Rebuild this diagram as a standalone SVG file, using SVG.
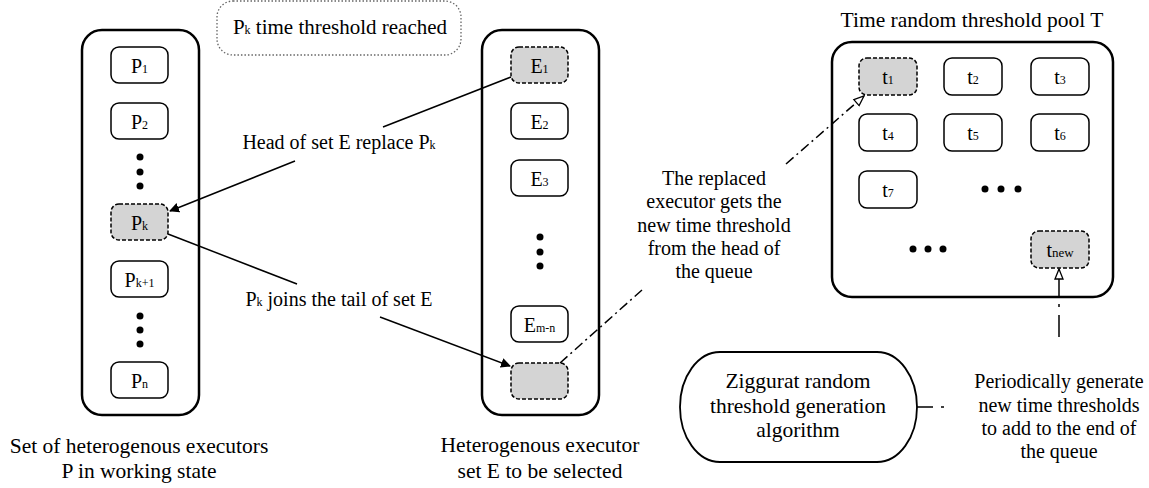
<svg xmlns="http://www.w3.org/2000/svg" width="1149" height="488" viewBox="0 0 1149 488" font-family="Liberation Serif">
<defs>
<style>
.cap{font-size:21.5px;text-anchor:middle;}
.lbl{font-size:20px;text-anchor:middle;}
.bx{font-size:20px;text-anchor:middle;}
.sub{font-size:12px;}
.cont{fill:#fff;stroke:#000;stroke-width:2.5;}
.box{fill:#fff;stroke:#000;stroke-width:1.5;}
.sel{fill:#d4d4d4;stroke:#000;stroke-width:1.5;stroke-dasharray:4 2;}
.dot{fill:#000;}
.solid{stroke:#000;stroke-width:1.5;fill:none;}
.dd{stroke:#000;stroke-width:1.5;fill:none;stroke-dasharray:10 4 2 4;}
</style>
<marker id="fill" viewBox="0 0 10 10" refX="9" refY="5" markerWidth="10" markerHeight="10" markerUnits="userSpaceOnUse" orient="auto">
<path d="M0,0 L10,5 L0,10 z" fill="#000"/>
</marker>
<marker id="hollow" viewBox="0 0 12 10" refX="11" refY="5" markerWidth="12" markerHeight="10" markerUnits="userSpaceOnUse" orient="auto">
<path d="M1,1 L11,5 L1,9 z" fill="#fff" stroke="#000" stroke-width="1.3"/>
</marker>
</defs>
<rect width="1149" height="488" fill="#fff"/>

<g id="trigger">
<rect x="217" y="1" width="244" height="54" rx="16" fill="none" stroke="#666" stroke-width="1.3" stroke-dasharray="1.5 2"/>
<text x="340" y="34" class="lbl" font-family="Liberation Serif" style="font-size:21px">P<tspan class="sub">k</tspan>  time threshold reached</text>
</g>

<g id="setP">
<rect class="cont" x="82" y="30" width="117" height="385" rx="20"/>
<g id="P1"><rect class="box" x="111" y="47" width="57" height="36" rx="8"/><text class="bx" font-family="Liberation Serif" x="139.5" y="73">P<tspan class="sub">1</tspan></text></g>
<g id="P2"><rect class="box" x="111" y="103" width="57" height="36" rx="8"/><text class="bx" font-family="Liberation Serif" x="139.5" y="129">P<tspan class="sub">2</tspan></text></g>
<circle class="dot" cx="140" cy="157" r="3.5"/><circle class="dot" cx="140" cy="172" r="3.5"/><circle class="dot" cx="140" cy="186" r="3.5"/>
<g id="Pk"><rect class="sel" x="111" y="204" width="57" height="36" rx="8"/><text class="bx" font-family="Liberation Serif" x="139.5" y="230">P<tspan class="sub">k</tspan></text></g>
<g id="Pk1"><rect class="box" x="111" y="261" width="57" height="36" rx="8"/><text class="bx" font-family="Liberation Serif" x="139.5" y="287">P<tspan class="sub">k+1</tspan></text></g>
<circle class="dot" cx="140" cy="316" r="3.5"/><circle class="dot" cx="140" cy="330" r="3.5"/><circle class="dot" cx="140" cy="344" r="3.5"/>
<g id="Pn"><rect class="box" x="111" y="362" width="57" height="36" rx="8"/><text class="bx" font-family="Liberation Serif" x="139.5" y="388">P<tspan class="sub">n</tspan></text></g>
<text class="cap" font-family="Liberation Serif" x="139" y="453">Set of heterogenous executors</text>
<text class="cap" font-family="Liberation Serif" x="139" y="478">P in working state</text>
</g>

<g id="setE">
<rect class="cont" x="482" y="30" width="117" height="385" rx="20"/>
<g id="E1"><rect class="sel" x="511" y="47" width="57" height="36" rx="8"/><text class="bx" font-family="Liberation Serif" x="539.5" y="73">E<tspan class="sub">1</tspan></text></g>
<g id="E2"><rect class="box" x="511" y="103" width="57" height="36" rx="8"/><text class="bx" font-family="Liberation Serif" x="539.5" y="129">E<tspan class="sub">2</tspan></text></g>
<g id="E3"><rect class="box" x="511" y="160" width="57" height="36" rx="8"/><text class="bx" font-family="Liberation Serif" x="539.5" y="186">E<tspan class="sub">3</tspan></text></g>
<circle class="dot" cx="540" cy="237" r="3.5"/><circle class="dot" cx="540" cy="252" r="3.5"/><circle class="dot" cx="540" cy="266" r="3.5"/>
<g id="Emn"><rect class="box" x="511" y="306" width="57" height="36" rx="8"/><text class="bx" font-family="Liberation Serif" x="539.5" y="332">E<tspan class="sub">m-n</tspan></text></g>
<g id="Etail"><rect class="sel" x="511" y="363" width="57" height="36" rx="8"/></g>
<text class="cap" font-family="Liberation Serif" x="540" y="452">Heterogenous executor</text>
<text class="cap" font-family="Liberation Serif" x="540" y="478">set E to be selected</text>
</g>

<g id="poolT">
<text class="cap" font-family="Liberation Serif" x="972" y="27">Time random threshold pool T</text>
<rect class="cont" x="832" y="42" width="281" height="255" rx="20"/>
<g id="t1"><rect class="sel" x="859" y="58" width="58" height="37" rx="8"/><text class="bx" font-family="Liberation Serif" x="888" y="84">t<tspan class="sub">1</tspan></text></g>
<g id="t2"><rect class="box" x="944" y="58" width="58" height="37" rx="8"/><text class="bx" font-family="Liberation Serif" x="973" y="84">t<tspan class="sub">2</tspan></text></g>
<g id="t3"><rect class="box" x="1031" y="58" width="58" height="37" rx="8"/><text class="bx" font-family="Liberation Serif" x="1060" y="84">t<tspan class="sub">3</tspan></text></g>
<g id="t4"><rect class="box" x="859" y="114" width="58" height="37" rx="8"/><text class="bx" font-family="Liberation Serif" x="888" y="140">t<tspan class="sub">4</tspan></text></g>
<g id="t5"><rect class="box" x="944" y="114" width="58" height="37" rx="8"/><text class="bx" font-family="Liberation Serif" x="973" y="140">t<tspan class="sub">5</tspan></text></g>
<g id="t6"><rect class="box" x="1031" y="114" width="58" height="37" rx="8"/><text class="bx" font-family="Liberation Serif" x="1060" y="140">t<tspan class="sub">6</tspan></text></g>
<g id="t7"><rect class="box" x="859" y="171" width="58" height="37" rx="8"/><text class="bx" font-family="Liberation Serif" x="888" y="197">t<tspan class="sub">7</tspan></text></g>
<circle class="dot" cx="985" cy="189" r="3.5"/><circle class="dot" cx="1001" cy="189" r="3.5"/><circle class="dot" cx="1018" cy="189" r="3.5"/>
<circle class="dot" cx="913" cy="249" r="3.5"/><circle class="dot" cx="928" cy="249" r="3.5"/><circle class="dot" cx="943" cy="249" r="3.5"/>
<g id="tnew"><rect class="sel" x="1031" y="231" width="58" height="37" rx="8"/><text class="bx" font-family="Liberation Serif" x="1060" y="257">t<tspan class="sub" style="font-size:13px">new</tspan></text></g>
</g>

<g id="ziggurat">
<rect x="680" y="352" width="237" height="110" rx="40" ry="55" fill="#fff" stroke="#000" stroke-width="1.8"/>
<text class="cap" font-family="Liberation Serif" x="798" y="388">Ziggurat random</text>
<text class="cap" font-family="Liberation Serif" x="798" y="413">threshold generation</text>
<text class="cap" font-family="Liberation Serif" x="798" y="437">algorithm</text>
</g>

<g id="labels">
<text class="lbl" font-family="Liberation Serif" x="339" y="149">Head of set E replace P<tspan class="sub">k</tspan></text>
<text class="lbl" font-family="Liberation Serif" x="339" y="306">P<tspan class="sub">k</tspan> joins the tail of set E</text>
<text class="lbl" font-family="Liberation Serif" x="714" y="185">The replaced</text>
<text class="lbl" font-family="Liberation Serif" x="714" y="208">executor gets the</text>
<text class="lbl" font-family="Liberation Serif" x="714" y="232">new time threshold</text>
<text class="lbl" font-family="Liberation Serif" x="714" y="255">from the head of</text>
<text class="lbl" font-family="Liberation Serif" x="714" y="278">the queue</text>
<text class="lbl" font-family="Liberation Serif" x="1059" y="388">Periodically generate</text>
<text class="lbl" font-family="Liberation Serif" x="1059" y="412">new time thresholds</text>
<text class="lbl" font-family="Liberation Serif" x="1059" y="435">to add to the end of</text>
<text class="lbl" font-family="Liberation Serif" x="1059" y="458">the queue</text>
</g>

<g id="connectors">
<line class="solid" x1="511" y1="77" x2="383" y2="127"/>
<line class="solid" x1="295" y1="161" x2="170" y2="211" marker-end="url(#fill)"/>
<line class="solid" x1="168" y1="234" x2="297" y2="284"/>
<line class="solid" x1="380" y1="317" x2="510" y2="366" marker-end="url(#fill)"/>
<line class="dd" x1="560" y1="363" x2="642" y2="290"/>
<line class="dd" x1="786" y1="164" x2="864" y2="96" marker-end="url(#hollow)"/>
<line class="dd" x1="1059" y1="337" x2="1059" y2="298" style="stroke-dasharray:22 8 3 8"/>
<line class="solid" x1="1059" y1="298" x2="1059" y2="269" marker-end="url(#hollow)"/>
<line class="dd" x1="917" y1="407" x2="944" y2="407" style="stroke-dasharray:16 8 3 10"/>
</g>
</svg>
